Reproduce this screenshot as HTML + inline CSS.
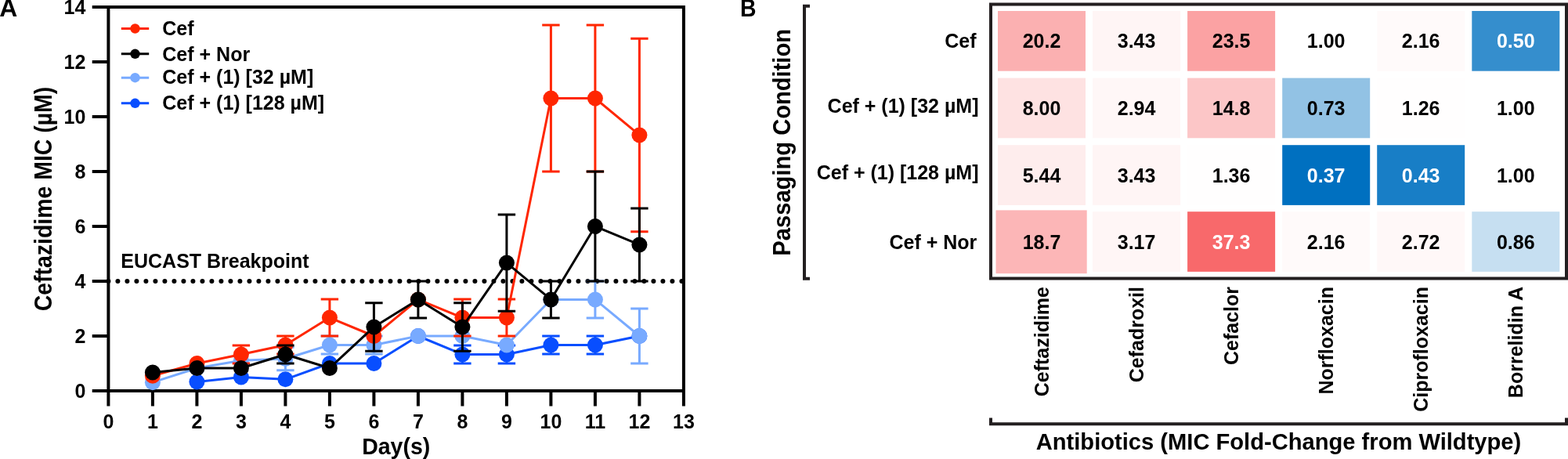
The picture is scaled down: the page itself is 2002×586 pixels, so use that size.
<!DOCTYPE html><html><head><meta charset="utf-8"><title>Figure</title><style>html,body{margin:0;padding:0;background:#fff;overflow:hidden;width:2002px;height:586px;}svg{display:block;}text{font-family:'Liberation Sans', Arial, Helvetica, sans-serif;font-weight:bold;}</style></head><body>
<svg width="2002" height="586" viewBox="0 0 2002 586">
<rect width="2002" height="586" fill="#fff"/>
<text transform="translate(-0.8,20.8) scale(1.1,1.065)" font-size="29">A</text>
<path d="M138.4,7V501.0 M117.7,9.0H874.9 M872.9,7V518.5 M117.7,499.0H874.9 M117.7,429.0H138.4 M117.7,359.0H138.4 M117.7,289.0H138.4 M117.7,219.0H138.4 M117.7,149.0H138.4 M117.7,79.0H138.4 M138.4,499.0V518.5 M194.9,499.0V518.5 M251.4,499.0V518.5 M307.9,499.0V518.5 M364.4,499.0V518.5 M420.9,499.0V518.5 M477.4,499.0V518.5 M533.9,499.0V518.5 M590.4,499.0V518.5 M646.9,499.0V518.5 M703.4,499.0V518.5 M759.9,499.0V518.5 M816.4,499.0V518.5" stroke="#000" stroke-width="4" fill="none"/>
<line x1="138.4" y1="359.0" x2="872.9" y2="359.0" stroke="#000" stroke-width="6" stroke-linecap="round" stroke-dasharray="0 12"/>
<text x="154.3" y="342" font-size="25">EUCAST Breakpoint</text>
<path d="M251.40,487.45 L307.90,481.50 L364.40,484.30 L420.90,464.00 L477.40,464.00 L533.90,429.00 L590.40,452.45 L646.90,452.45 L703.40,440.55 L759.90,440.55 L816.40,429.00" fill="none" stroke="#084EFF" stroke-width="3.0" stroke-linejoin="round"/>
<path d="M590.40,440.90V464.00M579.20,440.90H601.60M579.20,464.00H601.60" stroke="#084EFF" stroke-width="3.0" fill="none"/>
<path d="M646.90,440.90V464.00M635.70,440.90H658.10M635.70,464.00H658.10" stroke="#084EFF" stroke-width="3.0" fill="none"/>
<path d="M703.40,429.00V452.10M692.20,429.00H714.60M692.20,452.10H714.60" stroke="#084EFF" stroke-width="3.0" fill="none"/>
<path d="M759.90,429.00V452.10M748.70,429.00H771.10M748.70,452.10H771.10" stroke="#084EFF" stroke-width="3.0" fill="none"/>
<circle cx="251.40" cy="487.45" r="10.0" fill="#084EFF"/>
<circle cx="307.90" cy="481.50" r="10.0" fill="#084EFF"/>
<circle cx="364.40" cy="484.30" r="10.0" fill="#084EFF"/>
<circle cx="420.90" cy="464.00" r="10.0" fill="#084EFF"/>
<circle cx="477.40" cy="464.00" r="10.0" fill="#084EFF"/>
<circle cx="533.90" cy="429.00" r="10.0" fill="#084EFF"/>
<circle cx="590.40" cy="452.45" r="10.0" fill="#084EFF"/>
<circle cx="646.90" cy="452.45" r="10.0" fill="#084EFF"/>
<circle cx="703.40" cy="440.55" r="10.0" fill="#084EFF"/>
<circle cx="759.90" cy="440.55" r="10.0" fill="#084EFF"/>
<circle cx="816.40" cy="429.00" r="10.0" fill="#084EFF"/>
<path d="M194.90,488.15 L251.40,469.95 L307.90,460.15 L364.40,458.05 L420.90,440.55 L477.40,440.55 L533.90,429.00 L590.40,429.00 L646.90,440.55 L703.40,382.45 L759.90,382.45 L816.40,429.00" fill="none" stroke="#78AAFF" stroke-width="3.0" stroke-linejoin="round"/>
<path d="M364.40,443.35V472.75M353.20,443.35H375.60M353.20,472.75H375.60" stroke="#78AAFF" stroke-width="3.0" fill="none"/>
<path d="M420.90,429.00V452.10M409.70,429.00H432.10M409.70,452.10H432.10" stroke="#78AAFF" stroke-width="3.0" fill="none"/>
<path d="M477.40,429.00V452.10M466.20,429.00H488.60M466.20,452.10H488.60" stroke="#78AAFF" stroke-width="3.0" fill="none"/>
<path d="M759.90,359.00V405.90M748.70,359.00H771.10M748.70,405.90H771.10" stroke="#78AAFF" stroke-width="3.0" fill="none"/>
<path d="M816.40,394.00V464.00M805.20,394.00H827.60M805.20,464.00H827.60" stroke="#78AAFF" stroke-width="3.0" fill="none"/>
<circle cx="194.90" cy="488.15" r="10.0" fill="#78AAFF"/>
<circle cx="251.40" cy="469.95" r="10.0" fill="#78AAFF"/>
<circle cx="307.90" cy="460.15" r="10.0" fill="#78AAFF"/>
<circle cx="364.40" cy="458.05" r="10.0" fill="#78AAFF"/>
<circle cx="420.90" cy="440.55" r="10.0" fill="#78AAFF"/>
<circle cx="477.40" cy="440.55" r="10.0" fill="#78AAFF"/>
<circle cx="533.90" cy="429.00" r="10.0" fill="#78AAFF"/>
<circle cx="590.40" cy="429.00" r="10.0" fill="#78AAFF"/>
<circle cx="646.90" cy="440.55" r="10.0" fill="#78AAFF"/>
<circle cx="703.40" cy="382.45" r="10.0" fill="#78AAFF"/>
<circle cx="759.90" cy="382.45" r="10.0" fill="#78AAFF"/>
<circle cx="816.40" cy="429.00" r="10.0" fill="#78AAFF"/>
<path d="M194.90,479.75 L251.40,464.00 L307.90,452.45 L364.40,440.55 L420.90,405.55 L477.40,429.00 L533.90,382.45 L590.40,405.55 L646.90,405.55 L703.40,125.55 L759.90,125.55 L816.40,172.45" fill="none" stroke="#FF2600" stroke-width="3.0" stroke-linejoin="round"/>
<path d="M307.90,440.90V464.00M296.70,440.90H319.10M296.70,464.00H319.10" stroke="#FF2600" stroke-width="3.0" fill="none"/>
<path d="M364.40,429.00V452.10M353.20,429.00H375.60M353.20,452.10H375.60" stroke="#FF2600" stroke-width="3.0" fill="none"/>
<path d="M420.90,382.10V429.00M409.70,382.10H432.10M409.70,429.00H432.10" stroke="#FF2600" stroke-width="3.0" fill="none"/>
<path d="M590.40,382.10V429.00M579.20,382.10H601.60M579.20,429.00H601.60" stroke="#FF2600" stroke-width="3.0" fill="none"/>
<path d="M646.90,382.10V429.00M635.70,382.10H658.10M635.70,429.00H658.10" stroke="#FF2600" stroke-width="3.0" fill="none"/>
<path d="M703.40,32.10V219.00M692.20,32.10H714.60M692.20,219.00H714.60" stroke="#FF2600" stroke-width="3.0" fill="none"/>
<path d="M759.90,32.10V219.00M748.70,32.10H771.10M748.70,219.00H771.10" stroke="#FF2600" stroke-width="3.0" fill="none"/>
<path d="M816.40,49.25V295.65M805.20,49.25H827.60M805.20,295.65H827.60" stroke="#FF2600" stroke-width="3.0" fill="none"/>
<circle cx="194.90" cy="479.75" r="10.0" fill="#FF2600"/>
<circle cx="251.40" cy="464.00" r="10.0" fill="#FF2600"/>
<circle cx="307.90" cy="452.45" r="10.0" fill="#FF2600"/>
<circle cx="364.40" cy="440.55" r="10.0" fill="#FF2600"/>
<circle cx="420.90" cy="405.55" r="10.0" fill="#FF2600"/>
<circle cx="477.40" cy="429.00" r="10.0" fill="#FF2600"/>
<circle cx="533.90" cy="382.45" r="10.0" fill="#FF2600"/>
<circle cx="590.40" cy="405.55" r="10.0" fill="#FF2600"/>
<circle cx="646.90" cy="405.55" r="10.0" fill="#FF2600"/>
<circle cx="703.40" cy="125.55" r="10.0" fill="#FF2600"/>
<circle cx="759.90" cy="125.55" r="10.0" fill="#FF2600"/>
<circle cx="816.40" cy="172.45" r="10.0" fill="#FF2600"/>
<path d="M194.90,475.55 L251.40,469.95 L307.90,469.95 L364.40,452.45 L420.90,469.95 L477.40,417.45 L533.90,382.45 L590.40,417.45 L646.90,335.55 L703.40,382.45 L759.90,289.00 L816.40,312.45" fill="none" stroke="#000000" stroke-width="3.0" stroke-linejoin="round"/>
<path d="M364.40,440.90V464.00M353.20,440.90H375.60M353.20,464.00H375.60" stroke="#000000" stroke-width="3.0" fill="none"/>
<path d="M477.40,386.65V448.25M466.20,386.65H488.60M466.20,448.25H488.60" stroke="#000000" stroke-width="3.0" fill="none"/>
<path d="M533.90,359.00V405.90M522.70,359.00H545.10M522.70,405.90H545.10" stroke="#000000" stroke-width="3.0" fill="none"/>
<path d="M590.40,386.65V448.25M579.20,386.65H601.60M579.20,448.25H601.60" stroke="#000000" stroke-width="3.0" fill="none"/>
<path d="M646.90,273.95V397.15M635.70,273.95H658.10M635.70,397.15H658.10" stroke="#000000" stroke-width="3.0" fill="none"/>
<path d="M703.40,359.00V405.90M692.20,359.00H714.60M692.20,405.90H714.60" stroke="#000000" stroke-width="3.0" fill="none"/>
<path d="M759.90,219.00V359.00M748.70,219.00H771.10M748.70,359.00H771.10" stroke="#000000" stroke-width="3.0" fill="none"/>
<path d="M816.40,265.90V359.00M805.20,265.90H827.60M805.20,359.00H827.60" stroke="#000000" stroke-width="3.0" fill="none"/>
<circle cx="194.90" cy="475.55" r="10.0" fill="#000000"/>
<circle cx="251.40" cy="469.95" r="10.0" fill="#000000"/>
<circle cx="307.90" cy="469.95" r="10.0" fill="#000000"/>
<circle cx="364.40" cy="452.45" r="10.0" fill="#000000"/>
<circle cx="420.90" cy="469.95" r="10.0" fill="#000000"/>
<circle cx="477.40" cy="417.45" r="10.0" fill="#000000"/>
<circle cx="533.90" cy="382.45" r="10.0" fill="#000000"/>
<circle cx="590.40" cy="417.45" r="10.0" fill="#000000"/>
<circle cx="646.90" cy="335.55" r="10.0" fill="#000000"/>
<circle cx="703.40" cy="382.45" r="10.0" fill="#000000"/>
<circle cx="759.90" cy="289.00" r="10.0" fill="#000000"/>
<circle cx="816.40" cy="312.45" r="10.0" fill="#000000"/>
<text x="109.3" y="508.0" font-size="25" text-anchor="end">0</text>
<text x="109.3" y="438.0" font-size="25" text-anchor="end">2</text>
<text x="109.3" y="368.0" font-size="25" text-anchor="end">4</text>
<text x="109.3" y="298.0" font-size="25" text-anchor="end">6</text>
<text x="109.3" y="228.0" font-size="25" text-anchor="end">8</text>
<text x="109.3" y="158.0" font-size="25" text-anchor="end">10</text>
<text x="109.3" y="88.0" font-size="25" text-anchor="end">12</text>
<text x="109.3" y="18.0" font-size="25" text-anchor="end">14</text>
<text x="138.4" y="547.2" font-size="25" text-anchor="middle">0</text>
<text x="194.9" y="547.2" font-size="25" text-anchor="middle">1</text>
<text x="251.4" y="547.2" font-size="25" text-anchor="middle">2</text>
<text x="307.9" y="547.2" font-size="25" text-anchor="middle">3</text>
<text x="364.4" y="547.2" font-size="25" text-anchor="middle">4</text>
<text x="420.9" y="547.2" font-size="25" text-anchor="middle">5</text>
<text x="477.4" y="547.2" font-size="25" text-anchor="middle">6</text>
<text x="533.9" y="547.2" font-size="25" text-anchor="middle">7</text>
<text x="590.4" y="547.2" font-size="25" text-anchor="middle">8</text>
<text x="646.9" y="547.2" font-size="25" text-anchor="middle">9</text>
<text x="703.4" y="547.2" font-size="25" text-anchor="middle">10</text>
<text x="759.9" y="547.2" font-size="25" text-anchor="middle">11</text>
<text x="816.4" y="547.2" font-size="25" text-anchor="middle">12</text>
<text x="872.9" y="547.2" font-size="25" text-anchor="middle">13</text>
<text transform="translate(505.7,579.7) scale(1,1.06)" font-size="28.5" text-anchor="middle">Day(s)</text>
<text transform="translate(66.2,254) rotate(-90) scale(1,1.1)" font-size="28.45" text-anchor="middle">Ceftazidime MIC (µM)</text>
<line x1="154.8" y1="36.5" x2="190.2" y2="36.5" stroke="#FF2600" stroke-width="3"/>
<circle cx="172.5" cy="36.5" r="6.2" fill="#FF2600"/>
<text x="207.3" y="44.9" font-size="25">Cef</text>
<line x1="154.8" y1="68.8" x2="190.2" y2="68.8" stroke="#000000" stroke-width="3"/>
<circle cx="172.5" cy="68.8" r="6.2" fill="#000000"/>
<text x="207.3" y="77.5" font-size="25">Cef + Nor</text>
<line x1="154.8" y1="99.2" x2="190.2" y2="99.2" stroke="#78AAFF" stroke-width="3"/>
<circle cx="172.5" cy="99.2" r="6.2" fill="#78AAFF"/>
<text x="207.3" y="107.3" font-size="25">Cef + (1) [32 µM]</text>
<line x1="154.8" y1="131.8" x2="190.2" y2="131.8" stroke="#084EFF" stroke-width="3"/>
<circle cx="172.5" cy="131.8" r="6.2" fill="#084EFF"/>
<text x="207.3" y="139.8" font-size="25">Cef + (1) [128 µM]</text>
<text transform="translate(945,20.8) scale(0.98,1.065)" font-size="29">B</text>
<rect x="1265" y="5.5" width="735" height="350" fill="none" stroke="#231F20" stroke-width="4"/>
<rect x="1274.0" y="14.0" width="112.0" height="76.7" fill="#FBB0B1"/>
<text x="1330.0" y="61.4" font-size="25" text-anchor="middle" fill="#000">20.2</text>
<rect x="1395.1" y="14.0" width="112.0" height="76.7" fill="#FFF5F5"/>
<text x="1451.1" y="61.4" font-size="25" text-anchor="middle" fill="#000">3.43</text>
<rect x="1516.1" y="14.0" width="112.0" height="76.7" fill="#FBA2A3"/>
<text x="1572.1" y="61.4" font-size="25" text-anchor="middle" fill="#000">23.5</text>
<text x="1693.2" y="61.4" font-size="25" text-anchor="middle" fill="#000">1.00</text>
<rect x="1758.2" y="14.0" width="112.0" height="76.7" fill="#FFFAFA"/>
<text x="1814.2" y="61.4" font-size="25" text-anchor="middle" fill="#000">2.16</text>
<rect x="1879.3" y="14.0" width="112.0" height="76.7" fill="#358ECD"/>
<text x="1935.3" y="61.4" font-size="25" text-anchor="middle" fill="#fff">0.50</text>
<rect x="1274.0" y="99.6" width="112.0" height="76.7" fill="#FEE2E2"/>
<text x="1330.0" y="146.9" font-size="25" text-anchor="middle" fill="#000">8.00</text>
<rect x="1395.1" y="99.6" width="112.0" height="76.7" fill="#FFF7F7"/>
<text x="1451.1" y="146.9" font-size="25" text-anchor="middle" fill="#000">2.94</text>
<rect x="1516.1" y="99.6" width="112.0" height="76.7" fill="#FCC6C7"/>
<text x="1572.1" y="146.9" font-size="25" text-anchor="middle" fill="#000">14.8</text>
<rect x="1637.2" y="99.6" width="112.0" height="76.7" fill="#92C2E4"/>
<text x="1693.2" y="146.9" font-size="25" text-anchor="middle" fill="#000">0.73</text>
<rect x="1758.2" y="99.6" width="112.0" height="76.7" fill="#FFFEFE"/>
<text x="1814.2" y="146.9" font-size="25" text-anchor="middle" fill="#000">1.26</text>
<text x="1935.3" y="146.9" font-size="25" text-anchor="middle" fill="#000">1.00</text>
<rect x="1274.0" y="185.2" width="112.0" height="76.7" fill="#FEEDED"/>
<text x="1330.0" y="232.5" font-size="25" text-anchor="middle" fill="#000">5.44</text>
<rect x="1395.1" y="185.2" width="112.0" height="76.7" fill="#FFF5F5"/>
<text x="1451.1" y="232.5" font-size="25" text-anchor="middle" fill="#000">3.43</text>
<rect x="1516.1" y="185.2" width="112.0" height="76.7" fill="#FFFEFE"/>
<text x="1572.1" y="232.5" font-size="25" text-anchor="middle" fill="#000">1.36</text>
<rect x="1637.2" y="185.2" width="112.0" height="76.7" fill="#0070C0"/>
<text x="1693.2" y="232.5" font-size="25" text-anchor="middle" fill="#fff">0.37</text>
<rect x="1758.2" y="185.2" width="112.0" height="76.7" fill="#187EC6"/>
<text x="1814.2" y="232.5" font-size="25" text-anchor="middle" fill="#fff">0.43</text>
<text x="1935.3" y="232.5" font-size="25" text-anchor="middle" fill="#000">1.00</text>
<rect x="1271.5" y="268.4" width="116.2" height="80.8" fill="#FCB6B7"/>
<text x="1330.0" y="317.6" font-size="25" text-anchor="middle" fill="#000">18.7</text>
<rect x="1395.1" y="270.2" width="112.0" height="76.7" fill="#FFF6F6"/>
<text x="1451.1" y="317.6" font-size="25" text-anchor="middle" fill="#000">3.17</text>
<rect x="1516.1" y="270.2" width="112.0" height="76.7" fill="#F8696B"/>
<text x="1572.1" y="317.6" font-size="25" text-anchor="middle" fill="#fff">37.3</text>
<rect x="1637.2" y="270.2" width="112.0" height="76.7" fill="#FFFAFA"/>
<text x="1693.2" y="317.6" font-size="25" text-anchor="middle" fill="#000">2.16</text>
<rect x="1758.2" y="270.2" width="112.0" height="76.7" fill="#FFF8F8"/>
<text x="1814.2" y="317.6" font-size="25" text-anchor="middle" fill="#000">2.72</text>
<rect x="1879.3" y="270.2" width="112.0" height="76.7" fill="#C6DFF1"/>
<text x="1935.3" y="317.6" font-size="25" text-anchor="middle" fill="#000">0.86</text>
<text x="1246.6" y="61.1" font-size="25" text-anchor="end">Cef</text>
<text x="1249.5" y="144.2" font-size="25" text-anchor="end">Cef + (1) [32 µM]</text>
<text x="1249.5" y="229.3" font-size="25" text-anchor="end">Cef + (1) [128 µM]</text>
<text x="1247.3" y="317.6" font-size="25" text-anchor="end">Cef + Nor</text>
<text transform="translate(1339.0,366) rotate(-90)" font-size="25" text-anchor="end">Ceftazidime</text>
<text transform="translate(1460.1,366) rotate(-90)" font-size="25" text-anchor="end">Cefadroxil</text>
<text transform="translate(1581.1,366) rotate(-90)" font-size="25" text-anchor="end">Cefaclor</text>
<text transform="translate(1702.2,366) rotate(-90)" font-size="25" text-anchor="end">Norfloxacin</text>
<text transform="translate(1823.2,366) rotate(-90)" font-size="25" text-anchor="end">Ciprofloxacin</text>
<text transform="translate(1944.3,366) rotate(-90)" font-size="25" text-anchor="end">Borrelidin A</text>
<path d="M1034,7.7H1027V355.7H1034" stroke="#231F20" stroke-width="4" fill="none"/>
<path d="M1265,533.6V541.3H2000V533.6" stroke="#231F20" stroke-width="4" fill="none"/>
<text transform="translate(1009.2,181.8) rotate(-90) scale(1,1.06)" font-size="29.15" text-anchor="middle">Passaging Condition</text>
<text transform="translate(1632.5,574.2) scale(1,1.04)" font-size="29.15" text-anchor="middle">Antibiotics (MIC Fold-Change from Wildtype)</text>
</svg></body></html>
